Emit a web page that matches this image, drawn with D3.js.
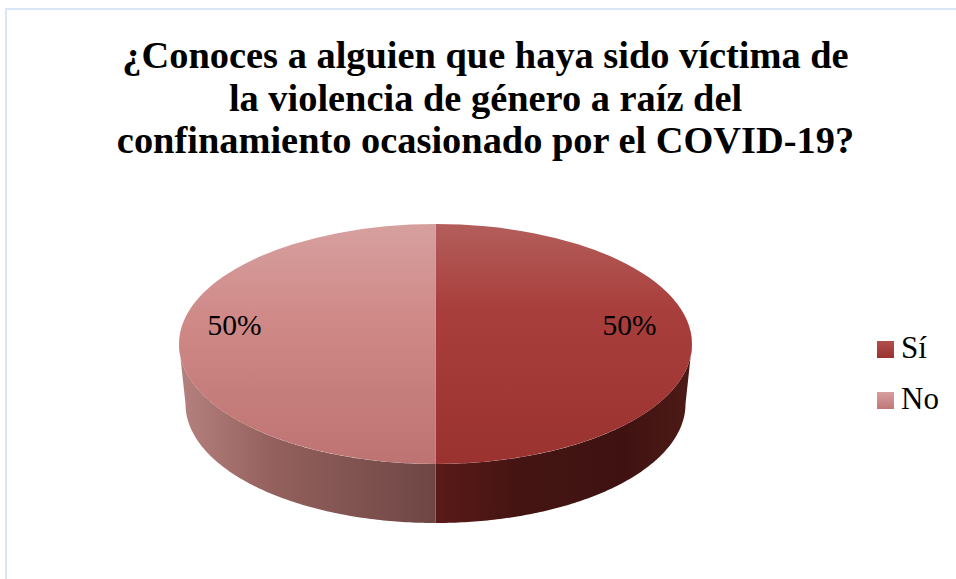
<!DOCTYPE html>
<html>
<head>
<meta charset="utf-8">
<script src="https://cdn.jsdelivr.net/npm/d3@7"></script>
<style>
  html, body { margin: 0; padding: 0; background: #fff; }
  svg { display: block; }
  text { font-family: "Liberation Serif", "Times New Roman", serif; fill: #000; }
</style>
</head>
<body>
<svg id="chart" width="956" height="579"></svg>
<script>
const categories = ["Sí", "No"];
const values = [50, 50];
const titleLines = [
  "¿Conoces a alguien que haya sido víctima de",
  "la violencia de género a raíz del",
  "confinamiento ocasionado por el COVID-19?"
];

const svg = d3.select("#chart");
const defs = svg.append("defs");

// pie geometry
const cx = 435.5, cy = 344, rx = 256.5, ry = 120;
const bottomCy = 404, bottomRx = 250, bottomRy = 119;

// chart frame
svg.append("path")
  .attr("d", "M6,579V9H956")
  .attr("fill", "none")
  .attr("stroke", "#d9e6f6")
  .attr("stroke-width", 2);

svg.append("text")
  .attr("text-anchor", "middle")
  .attr("font-weight", "bold")
  .attr("font-size", 38.4)
  .selectAll("tspan")
  .data(titleLines)
  .join("tspan")
  .attr("x", 485.5)
  .attr("y", (d, i) => 68 + i * 42.7)
  .text(d => d);

function gradient(id, coords, stops) {
  const g = defs.append("linearGradient")
    .attr("id", id)
    .attr("gradientUnits", "userSpaceOnUse")
    .attr("x1", coords[0]).attr("y1", coords[1])
    .attr("x2", coords[2]).attr("y2", coords[3]);
  g.selectAll("stop").data(stops).join("stop")
    .attr("offset", d => d[0])
    .attr("stop-color", d => d[1]);
}

// top faces, in the unscaled circle coords of the arc generator
gradient("top0", [0, -rx, 0, rx], [[0, "#b35e5b"], [0.35, "#a93f3c"], [1, "#9a3230"]]);
gradient("top1", [0, -rx, 0, rx], [[0, "#d6a09f"], [0.4, "#cf8987"], [1, "#bd7371"]]);
// front walls
gradient("side0", [436, 0, 686, 0], [[0, "#5a1a18"], [0.35, "#431412"], [0.75, "#3f1211"], [1, "#4c1a16"]]);
gradient("side1", [186, 0, 436, 0], [[0, "#b37f7d"], [0.35, "#93605d"], [1, "#6e4644"]]);
// legend keys
gradient("key0", [0, 0, 0, 17], [[0, "#b0504d"], [1, "#9a3230"]]);
gradient("key1", [0, 0, 0, 17], [[0, "#d6a09f"], [1, "#bf7775"]]);

const pie = d3.pie().sort(null).value(d => d);
const slices = pie(values);
const arc = d3.arc().innerRadius(0).outerRadius(rx);

// walls: only the part of each slice that faces the viewer
const wall = d3.area()
  .x0(a => cx + rx * Math.sin(a))
  .y0(a => cy - ry * Math.cos(a))
  .x1(a => cx + bottomRx * Math.sin(a))
  .y1(a => bottomCy - bottomRy * Math.cos(a));

slices.forEach((s, i) => {
  const a0 = Math.max(s.startAngle, Math.PI / 2);
  const a1 = Math.min(s.endAngle, Math.PI * 3 / 2);
  const angles = d3.range(0, 121).map(k => a0 + (a1 - a0) * k / 120);
  svg.append("path").attr("d", wall(angles)).attr("fill", `url(#side${i})`);
});

const topFace = svg.append("g")
  .attr("transform", `translate(${cx},${cy}) scale(1,${ry / rx})`);

topFace.selectAll("path")
  .data(slices)
  .join("path")
  .attr("d", arc)
  .attr("fill", (d, i) => `url(#top${i})`);

// percent labels
const labelArc = d3.arc().innerRadius(rx * 0.77).outerRadius(rx * 0.77);
const total = d3.sum(values);
svg.append("g")
  .attr("font-size", 29.5)
  .attr("text-anchor", "middle")
  .selectAll("text")
  .data(slices)
  .join("text")
  .attr("x", d => cx - 3.5 + labelArc.centroid(d)[0])
  .attr("y", 335)
  .text(d => d3.format(".0%")(d.value / total));

// legend
const legendY = d3.scalePoint().domain(categories).range([341, 392]);
const legend = svg.append("g")
  .selectAll("g")
  .data(categories)
  .join("g")
  .attr("transform", d => `translate(877,${legendY(d)})`);

legend.append("rect")
  .attr("width", 17)
  .attr("height", 17)
  .attr("fill", (d, i) => `url(#key${i})`);

legend.append("text")
  .attr("x", 24)
  .attr("y", 17)
  .attr("font-size", 31)
  .text(d => d);
</script>
</body>
</html>
